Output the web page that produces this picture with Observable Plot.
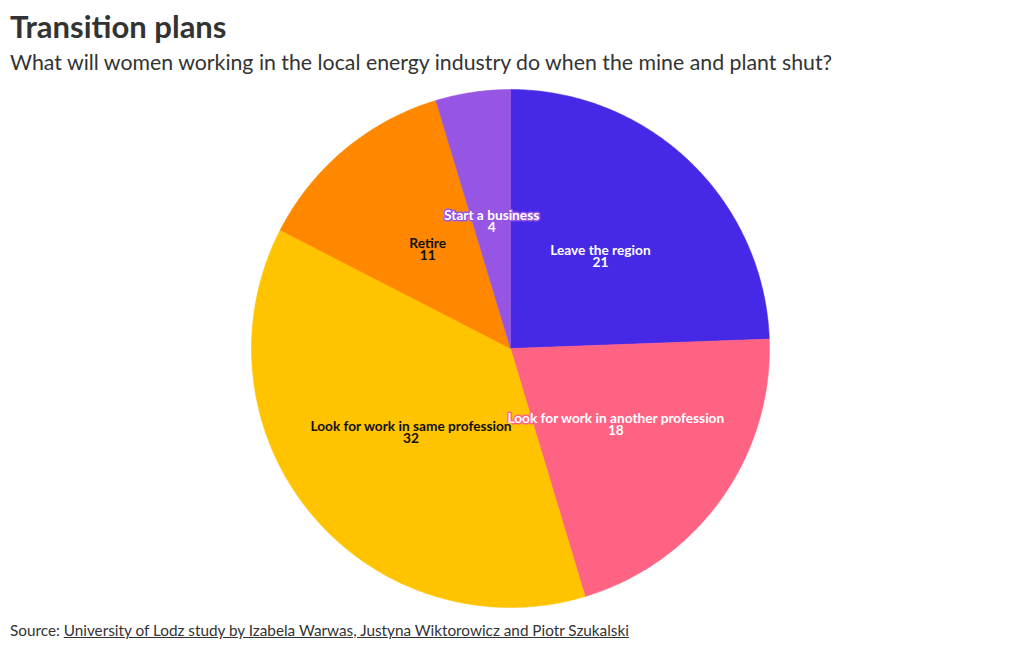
<!DOCTYPE html>
<html>
<head>
<meta charset="utf-8">
<script src="https://cdn.jsdelivr.net/npm/d3@7"></script>
<script src="https://cdn.jsdelivr.net/npm/@observablehq/plot@0.6"></script>
<style>
  html, body { margin: 0; padding: 0; background: #fff; }
  body { width: 1020px; height: 650px; overflow: hidden; font-family: Lato, "Noto Sans", sans-serif; color: #333; }
  #title { position: absolute; left: 10px; top: 7px; font-size: 31px; font-weight: 700; color: #333; line-height: 38px; }
  #subtitle { position: absolute; left: 10px; top: 48px; font-size: 21.3px; font-weight: 400; color: #333; line-height: 28px; }
  #chart { position: absolute; left: 0; top: 82px; }
  #source { position: absolute; left: 10px; top: 620px; font-size: 15.3px; color: #333; line-height: 20px; }
  #source a { color: #333; text-decoration: underline; }
</style>
</head>
<body>
<div id="title">Transition plans</div>
<div id="subtitle">What will women working in the local energy industry do when the mine and plant shut?</div>
<div id="chart"></div>
<div id="source">Source: <a>University of Lodz study by Izabela Warwas, Justyna Wiktorowicz and Piotr Szukalski</a></div>
<script>
const categories = ["Leave the region", "Look for work in another profession", "Look for work in same profession", "Retire", "Start a business"];
const values = [21, 18, 32, 11, 4];
const colors = ["#4629e6", "#ff6384", "#ffc300", "#ff8800", "#9755e3"];
const textColors = ["#ffffff", "#ffffff", "#111111", "#111111", "#ffffff"];

const arcs = d3.pie().sort(null).value(d => d)(values);

// polygon outline of each slice (angles from 12 o'clock, clockwise)
const polys = [];
arcs.forEach((a, i) => {
  polys.push({k: i, x: 0, y: 0});
  const n = Math.max(2, Math.ceil((a.endAngle - a.startAngle) / 0.01));
  for (let j = 0; j <= n; j++) {
    const t = a.startAngle + (a.endAngle - a.startAngle) * j / n;
    polys.push({k: i, x: Math.sin(t), y: Math.cos(t)});
  }
  polys.push({k: i, x: 0, y: 0});
});

const labels = arcs.map((a, i) => {
  const m = (a.startAngle + a.endAngle) / 2;
  return {k: i, x: 0.5 * Math.sin(m), y: 0.5 * Math.cos(m), text: categories[i] + "\n" + values[i]};
});

const R = 259, cx = 510, cy = 266;
const chart = Plot.plot({
  width: 1020,
  height: 530,
  margin: 0,
  x: {domain: [-1, 1], range: [cx - R, cx + R], axis: null},
  y: {domain: [-1, 1], range: [cy + R, cy - R], axis: null},
  color: {type: "identity"},
  style: {fontFamily: "Lato, 'Noto Sans', sans-serif", background: "transparent"},
  marks: [
    Plot.line(polys, {x: "x", y: "y", z: "k", fill: d => colors[d.k], stroke: d => colors[d.k], strokeWidth: 0.5, curve: "linear-closed"}),
    Plot.text(labels, {x: "x", y: "y", text: "text", fill: d => textColors[d.k], stroke: d => colors[d.k], strokeWidth: 3, fontSize: 13.7, fontWeight: 700, lineHeight: 0.88, dy: 1.5})
  ]
});
document.getElementById("chart").appendChild(chart);
</script>
</body>
</html>
